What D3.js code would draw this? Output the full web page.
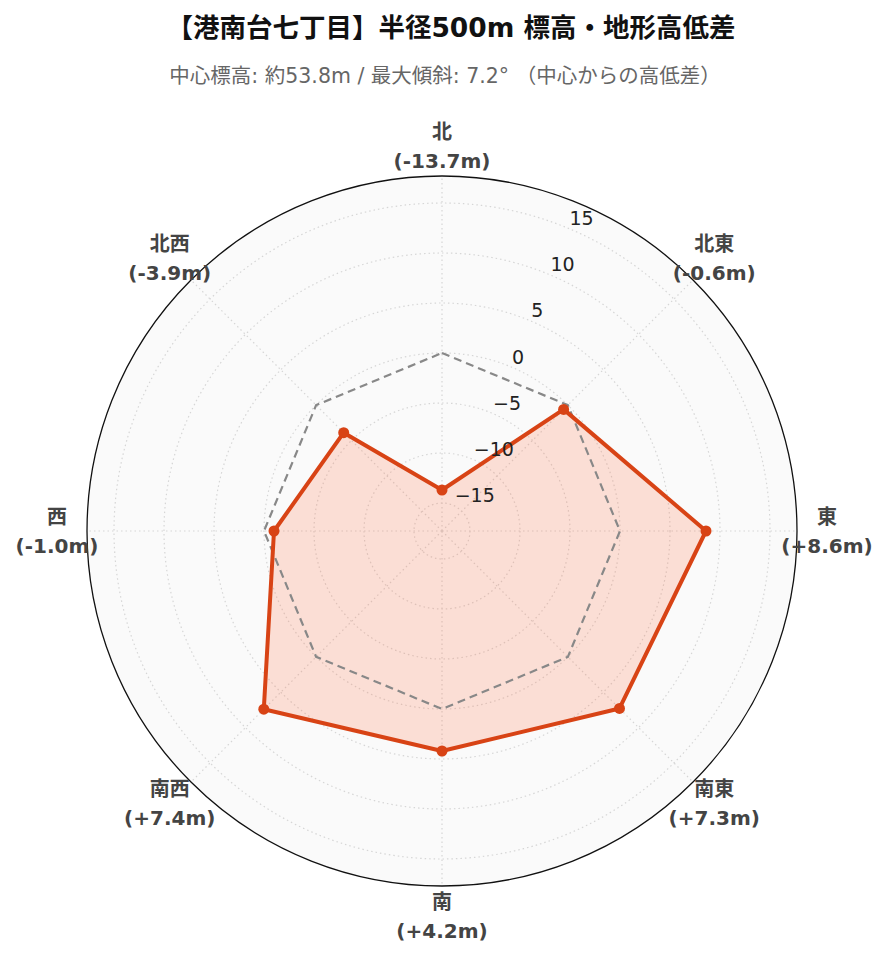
<!DOCTYPE html>
<html>
<head>
<meta charset="utf-8">
<script src="https://cdn.jsdelivr.net/npm/d3@7"></script>
<style>
  body { margin: 0; background: #fff; }
  text { font-family: "DejaVu Sans", "Noto Sans CJK JP", sans-serif; }
</style>
</head>
<body>
<div id="chart"></div>
<script>
// DATA
const directions = ['北', '北東', '東', '南東', '南', '南西', '西', '北西'];
const diffs = [-13.7, -0.6, 8.6, 7.3, 4.2, 7.4, -1.0, -3.9];
const baseline = [0, 0, 0, 0, 0, 0, 0, 0];
const radialTicks = [-15, -10, -5, 0, 5, 10, 15];
const radialRange = [-17.8, 17.7];

const titleText = '【港南台七丁目】半径500m 標高・地形高低差';
const subText = '中心標高: 約53.8m / 最大傾斜: 7.2° （中心からの高低差）';

// SETUP
const W = 889, H = 962;
const cx = 442, cy = 531, R = 355;
const svg = d3.select('#chart').append('svg').attr('width', W).attr('height', H);

const r = d3.scaleLinear().domain(radialRange).range([0, R]);
const angle = d3.scalePoint().domain(directions).range([0, 2 * Math.PI * 7 / 8]);

function fmt(v) { return '(' + (v > 0 ? '+' : '') + v.toFixed(1) + 'm)'; }

// titles
svg.append('text').attr('x', 451).attr('y', 28).attr('dy', '0.35em')
   .attr('text-anchor', 'middle').style('font-size', '26.5px').style('font-weight', 'bold')
   .attr('fill', '#111').text(titleText);
svg.append('text').attr('x', 445).attr('y', 76).attr('dy', '0.35em')
   .attr('text-anchor', 'middle').style('font-size', '20.5px')
   .attr('fill', '#666').text(subText);

const g = svg.append('g').attr('transform', 'translate(' + cx + ',' + cy + ')');

// background
g.append('circle').attr('r', R).attr('fill', '#fafafa');

// grid circles
g.selectAll('.grid').data(radialTicks).enter().append('circle')
 .attr('r', d => r(d)).attr('fill', 'none')
 .attr('stroke', '#d6d6d6').attr('stroke-width', 1.2).attr('stroke-dasharray', '1.5,3');

// spokes
g.selectAll('.spoke').data(directions).enter().append('line')
 .attr('x1', 0).attr('y1', 0)
 .attr('x2', d => R * Math.sin(angle(d))).attr('y2', d => -R * Math.cos(angle(d)))
 .attr('stroke', '#d6d6d6').attr('stroke-width', 1.2).attr('stroke-dasharray', '1.5,3');

// outer ring
g.append('circle').attr('r', R).attr('fill', 'none').attr('stroke', '#111').attr('stroke-width', 1.3);

const radial = d3.lineRadial()
  .angle((d, i) => angle(directions[i]))
  .radius(d => r(d))
  .curve(d3.curveLinearClosed);

// data area
g.append('path').attr('d', radial(diffs))
 .attr('fill', 'rgba(255,112,67,0.2)').attr('stroke', 'none');

// zero reference
g.append('path').attr('d', radial(baseline))
 .attr('fill', 'none').attr('stroke', '#888').attr('stroke-width', 2.2)
 .attr('stroke-dasharray', '8,5');

// data line
g.append('path').attr('d', radial(diffs))
 .attr('fill', 'none').attr('stroke', '#d84315').attr('stroke-width', 4)
 .attr('stroke-linejoin', 'round');

g.selectAll('.pt').data(diffs).enter().append('circle')
 .attr('cx', (d, i) => r(d) * Math.sin(angle(directions[i])))
 .attr('cy', (d, i) => -r(d) * Math.cos(angle(directions[i])))
 .attr('r', 5.5).attr('fill', '#d84315');

// radial tick labels (along 22.5 deg)
const tickAng = Math.PI / 8;
g.selectAll('.rtick').data(radialTicks).enter().append('text')
 .attr('x', d => r(d) * Math.sin(tickAng) + 2)
 .attr('y', d => -r(d) * Math.cos(tickAng) - 3)
 .style('font-size', '19px').attr('fill', '#222')
 .text(d => d < 0 ? '\u2212' + Math.abs(d) : d);

// angular labels
const labR = 385;
const lab = g.selectAll('.alab').data(directions).enter().append('text')
 .attr('text-anchor', 'middle')
 .style('font-size', '20px').style('font-weight', 'bold').attr('fill', '#444')
 .attr('transform', d => 'translate(' + (labR * Math.sin(angle(d))) + ',' + (-labR * Math.cos(angle(d))) + ')');
lab.append('tspan').attr('x', 0).attr('y', -14.5).attr('dy', '0.35em').text(d => d);
lab.append('tspan').attr('x', 0).attr('y', 14.5).attr('dy', '0.35em').text((d, i) => fmt(diffs[i]));
</script>
</body>
</html>
